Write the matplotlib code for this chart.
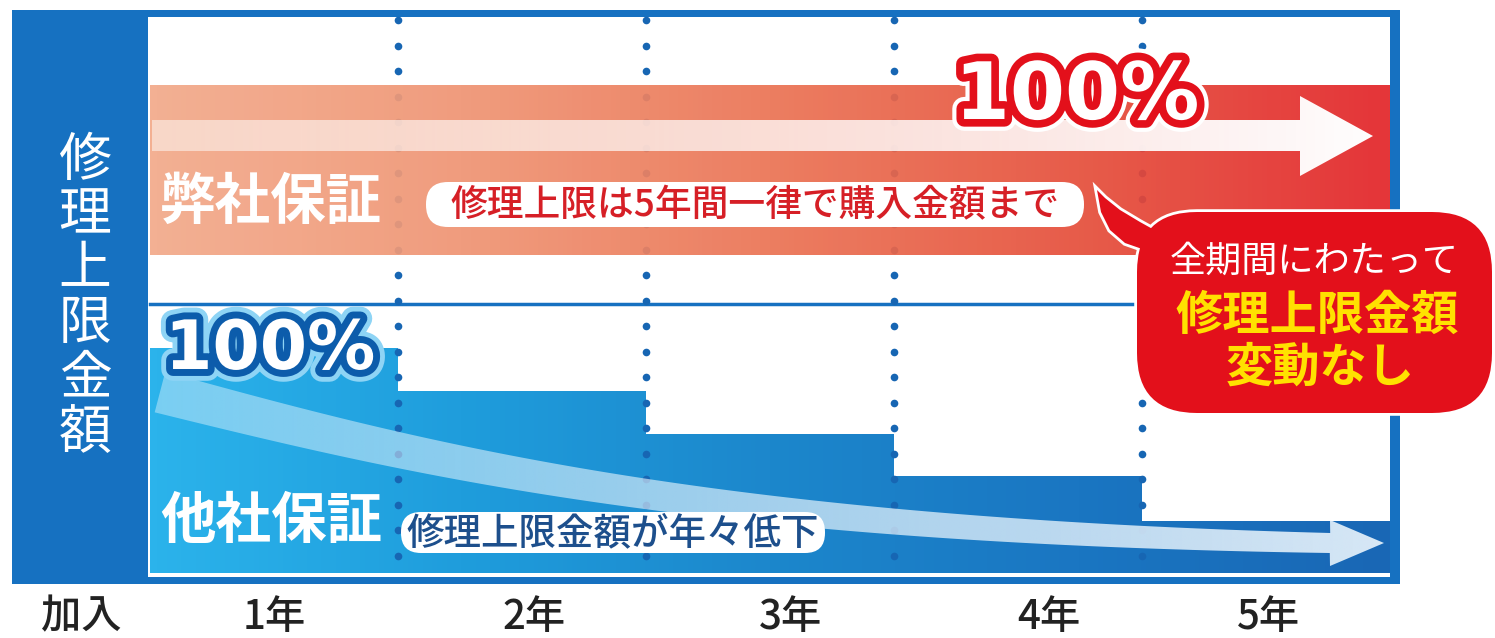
import numpy as np
import matplotlib
matplotlib.use('Agg')
import matplotlib.pyplot as plt
import matplotlib.patheffects as pe
from matplotlib.patches import Rectangle, FancyBboxPatch, Polygon
from matplotlib.colors import LinearSegmentedColormap, to_rgb
from matplotlib.path import Path

plt.rcParams['font.family'] = ['Noto Sans CJK JP', 'DejaVu Sans']

# ---- values ----
year_labels = ['加入', '1年', '2年', '3年', '4年', '5年']
years = np.arange(5)                      # one column per contract year
ours = [100, 100, 100, 100, 100]          # 弊社保証: repair cap, % of price
others = [100, 81, 62, 43, 23]            # 他社保証: cap drops every year
ours_name = '弊社保証'
others_name = '他社保証'
ylabel = '修理上限金額'
ours_note = '修理上限は5年間一律で購入金額まで'
others_note = '修理上限金額が年々低下'
callout = ['全期間にわたって', '修理上限金額', '変動なし']
pct_label = '100%'

W, H = 1495, 638
BLUE = '#1671c1'
DOT = '#1766b3'
RED = '#e3101b'

red_cmap = LinearSegmentedColormap.from_list(
    'redband', ['#f3aa8b', '#ef9574', '#eb7455', '#e6503c', '#e2262a'])
blue_cmap = LinearSegmentedColormap.from_list(
    'bluebars', ['#2bb3eb', '#1f9ddc', '#1c87cc', '#1a76c2', '#1967b5'])


def rect(x0, y0, x1, y1):
    # pixel box (origin top left) -> figure fraction
    return [x0 / W, 1 - y1 / H, (x1 - x0) / W, (y1 - y0) / H]


def px_axes(z):
    a = fig.add_axes([0, 0, 1, 1])
    a.set_xlim(0, W)
    a.set_ylim(H, 0)
    a.axis('off')
    a.set_zorder(z)
    return a


def gradient_bars(ax, vals, cmap, alpha=1.0):
    ax.set_xlim(0, 5)
    ax.set_ylim(0, 100)
    bars = ax.bar(years, vals, width=1, align='edge', color='none', linewidth=0)
    clip = Path.make_compound_path(
        *[b.get_path().transformed(b.get_patch_transform()) for b in bars])
    grad = np.linspace(0, 1, 256).reshape(1, -1)
    im = ax.imshow(grad, extent=[0, 5, 0, 100], aspect='auto', cmap=cmap,
                   alpha=alpha, interpolation='bilinear')
    im.set_clip_path(clip, ax.transData)
    ax.set_xlim(0, 5)
    ax.set_ylim(0, 100)
    ax.axis('off')


def fade_fill(ax, verts, x0, x1, y0, y1, a0, a1, color='white', z=2):
    poly = Polygon(verts, closed=True, fc='none', ec='none')
    ax.add_patch(poly)
    rgba = np.ones((1, 256, 4))
    rgba[..., :3] = to_rgb(color)
    rgba[..., 3] = np.linspace(a0, a1, 256)
    im = ax.imshow(rgba, extent=[x0, x1, y1, y0], aspect='auto',
                   interpolation='bilinear', zorder=z)
    im.set_clip_path(poly)


fig = plt.figure(figsize=(W / 100, H / 100), dpi=100)
fig.patch.set_facecolor('white')

# background: frame, left column, divider, dotted year lines
bg = px_axes(0)
bg.add_patch(Rectangle((12, 10), 1388, 574, fc=BLUE, ec='none'))
bg.add_patch(Rectangle((148, 17), 1242, 560, fc='white', ec='none'))
bg.plot([150, 1390], [303.5, 303.5], color=BLUE, lw=2.5)

col_x = 150 + 248 * np.arange(1, 5)
dot_y = np.arange(20, 560, 25.5)
for x in col_x:
    yy = dot_y[dot_y < 305]
    bg.plot(np.full(len(yy), x), yy, 'o', ms=5.5, color=DOT, mec='none')

# bars
ax_top = fig.add_axes(rect(150, 85, 1390, 255))
ax_top.set_zorder(1)
gradient_bars(ax_top, ours, red_cmap, alpha=0.93)

ax_bot = fig.add_axes(rect(150, 348, 1390, 573))
ax_bot.set_zorder(1)
gradient_bars(ax_bot, others, blue_cmap)

# foreground
fg = px_axes(2)
for x in col_x:
    yy = dot_y[dot_y > 310]
    fg.plot(np.full(len(yy), x), yy, 'o', ms=5.5, color=DOT, mec='none', zorder=1)

# straight arrow on the red band
arrow_top = [(152, 120), (1300, 120), (1300, 96), (1373, 136),
             (1300, 176), (1300, 151), (152, 151)]
fade_fill(fg, arrow_top, 150, 1375, 90, 180, 0.5, 1.0)

# curved arrow over the blue steps
P = np.array([[160, 392], [420, 460], [700, 530], [1330, 543]], float)
t = np.linspace(0, 1, 200)[:, None]
B = (1 - t)**3 * P[0] + 3 * (1 - t)**2 * t * P[1] + 3 * (1 - t) * t**2 * P[2] + t**3 * P[3]
dB = 3 * (1 - t)**2 * (P[1] - P[0]) + 6 * (1 - t) * t * (P[2] - P[1]) + 3 * t**2 * (P[3] - P[2])
nrm = np.column_stack([-dB[:, 1], dB[:, 0]]) / np.hypot(dB[:, 0], dB[:, 1])[:, None]
hw = 21 - 11 * t
upper = B - nrm * hw
lower = B + nrm * hw
head = np.array([(1330, 520), (1384, 543), (1330, 566)])
fade_fill(fg, np.vstack([upper, head, lower[::-1]]), 150, 1390, 370, 575,
          0.4, 0.88, color='#f2faff')

# big 100% labels
fg.text(1077, 97, pct_label, family='DejaVu Sans', fontsize=57, weight='bold',
        color='white', ha='center', va='center', zorder=5,
        path_effects=[pe.Stroke(linewidth=17, foreground='white'),
                      pe.Stroke(linewidth=11, foreground=RED), pe.Normal()])
fg.text(270, 350, pct_label, family='DejaVu Sans', fontsize=49, weight='bold',
        color='white', ha='center', va='center', zorder=5,
        path_effects=[pe.Stroke(linewidth=17, foreground='#8ed4f5'),
                      pe.Stroke(linewidth=10, foreground='#0c5cab'), pe.Normal()])

# series names
fg.text(271, 203, ours_name, fontsize=40, weight='bold', color='white',
        ha='center', va='center', zorder=5)
fg.text(271, 522, others_name, fontsize=40, weight='bold', color='white',
        ha='center', va='center', zorder=5)

# pills
fg.add_patch(FancyBboxPatch((426, 182), 658, 45,
                            boxstyle='round,pad=0,rounding_size=22',
                            fc='white', ec='none', zorder=4))
fg.text(755, 205, ours_note, fontsize=26.5, weight='medium', color='#d61f26',
        ha='center', va='center', zorder=5)
fg.add_patch(FancyBboxPatch((401, 512), 424, 41,
                            boxstyle='round,pad=0,rounding_size=20',
                            fc='white', ec='none', zorder=4))
fg.text(613, 533, others_note, fontsize=27, weight='medium', color='#1d4f8c',
        ha='center', va='center', zorder=5)

# callout bubble
tail = [(1097, 190), (1101, 212), (1110, 230), (1125, 243), (1145, 250),
        (1170, 252), (1185, 240), (1158, 232), (1140, 222), (1120, 210),
        (1105, 198)]
for lw, ec, z in [(4, 'white', 6), (0, 'none', 7)]:
    fg.add_patch(FancyBboxPatch((1137, 212), 355, 201,
                                boxstyle='round,pad=0,rounding_size=60',
                                fc=RED, ec=ec, lw=lw, zorder=z))
    fg.add_patch(Polygon(tail, closed=True, fc=RED, ec=ec, lw=lw, zorder=z))
fg.text(1314, 262, callout[0], fontsize=26, color='white',
        ha='center', va='center', zorder=8)
fg.text(1317, 316, callout[1], fontsize=34, weight='bold', color='#ffe100',
        ha='center', va='center', zorder=8)
fg.text(1320, 368, callout[2], fontsize=34, weight='bold', color='#ffe100',
        ha='center', va='center', zorder=8)

# vertical axis title in the blue column
for i, ch in enumerate(ylabel):
    fg.text(85, 160 + 54.5 * i, ch, fontsize=38, color='white',
            ha='center', va='center', zorder=5)

# year labels under the frame
label_x = [81, 274, 534, 791, 1049, 1268]
for x, s in zip(label_x, year_labels):
    fg.text(x, 617, s, fontsize=29, weight='medium', color='#222222',
            ha='center', va='center', zorder=5)

fg.set_xlim(0, W)
fg.set_ylim(H, 0)

plt.savefig('out.png', dpi=100)
